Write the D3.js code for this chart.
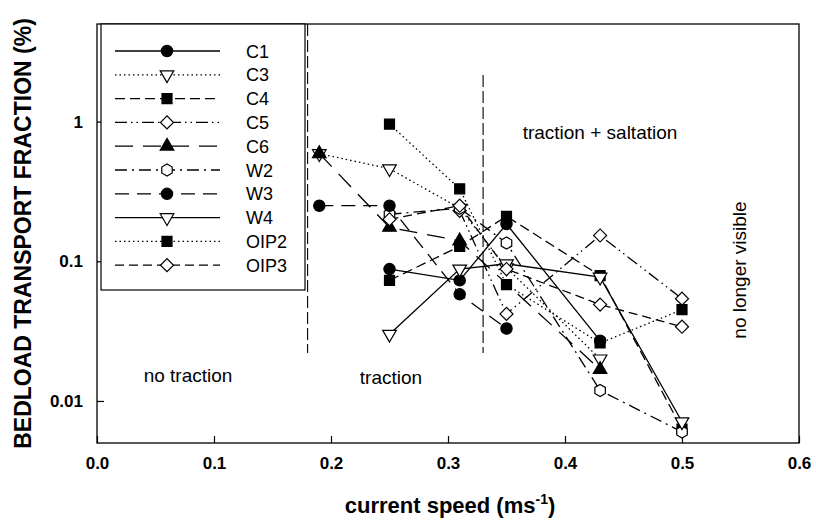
<!DOCTYPE html>
<html><head><meta charset="utf-8">
<script src="https://cdn.jsdelivr.net/npm/d3@7/dist/d3.min.js"></script>
<style>body{margin:0;background:#fff}svg{display:block}</style>
</head><body><svg id="c" width="816" height="524"></svg>
<script>
// ---- data ----
const speeds = [0.19, 0.25, 0.31, 0.35, 0.43, 0.5];
const seriesNames = ["C1","C3","C4","C5","C6","W2","W3","W4","OIP2","OIP3"];
const C1   = [null, 0.088, 0.073, 0.185, 0.027, null];
const C3   = [0.59, 0.46, 0.24, 0.09, 0.020, null];
const C4   = [null, 0.073, 0.128, 0.21, 0.079, 0.0063];
const C5   = [null, null, 0.23, 0.042, 0.153, 0.054];
const C6   = [0.59, 0.175, 0.14, null, 0.0168, null];
const W2   = [null, 0.217, 0.24, 0.135, 0.0119, 0.006];
const W3   = [0.25, 0.25, 0.058, 0.033, null, null];
const W4   = [null, 0.030, 0.088, 0.096, 0.077, 0.0071];
const OIP2 = [null, 0.96, 0.33, 0.068, 0.026, 0.045];
const OIP3 = [null, 0.20, 0.25, 0.088, 0.049, 0.034];
const xTicks = [0, 0.1, 0.2, 0.3, 0.4, 0.5, 0.6];
const yTicks = [0.01, 0.1, 1];
const regimeBounds = [0.18, 0.33];

// ---- styles ----
const styles = {
  C1:  {dash:null, sym:"circle", fill:"#000"},
  C3:  {dash:"1.5,3", sym:"tridown", fill:"#fff"},
  C4:  {dash:"10,5", sym:"square", fill:"#000"},
  C5:  {dash:"12,4,1.5,4,1.5,4", sym:"diamond", fill:"#fff"},
  C6:  {dash:"18,10", sym:"triangle", fill:"#000"},
  W2:  {dash:"12,5,2,5", sym:"hexagon", fill:"#fff"},
  W3:  {dash:"14,8", sym:"circle", fill:"#000"},
  W4:  {dash:null, sym:"tridown", fill:"#fff"},
  OIP2:{dash:"1.5,3", sym:"square", fill:"#000"},
  OIP3:{dash:"9,5", sym:"diamond", fill:"#fff"}
};
const dataMap = {C1,C3,C4,C5,C6,W2,W3,W4,OIP2,OIP3};

const svg = d3.select("#c");
const L = 97, R = 799, T = 24, B = 443;
const x = d3.scaleLinear().domain([0, 0.6]).range([L, R]);
const y = d3.scaleLog().domain([0.005, 5]).range([B, T]);
const font = "'Liberation Sans', Arial, Helvetica, sans-serif";

const hexType = { draw(ctx, size){ const r = Math.sqrt(size/2.598); for(let i=0;i<6;i++){const a=Math.PI/6+i*Math.PI/3; const px=r*Math.cos(a), py=r*Math.sin(a); if(i===0) ctx.moveTo(px,py); else ctx.lineTo(px,py);} ctx.closePath(); } };
function symPath(s){
  if(s==="circle") return {d:d3.symbol().type(d3.symbolCircle).size(100)(), rot:0};
  if(s==="square") return {d:d3.symbol().type(d3.symbolSquare).size(100)(), rot:0};
  if(s==="diamond") return {d:d3.symbol().type(d3.symbolSquare).size(85)(), rot:45};
  if(s==="triangle") return {d:d3.symbol().type(d3.symbolTriangle).size(80)(), rot:0};
  if(s==="tridown") return {d:d3.symbol().type(d3.symbolTriangle).size(80)(), rot:180};
  if(s==="hexagon") return {d:d3.symbol().type(hexType).size(95)(), rot:0};
}

// frame
svg.append("rect").attr("x",L).attr("y",T).attr("width",R-L).attr("height",B-T)
  .attr("fill","none").attr("stroke","#000").attr("stroke-width",1.3);

// axes
const xAxis = d3.axisBottom(x).tickValues(xTicks).tickFormat(d3.format(".1f")).tickSizeInner(-7).tickSizeOuter(0).tickPadding(14);
const gx = svg.append("g").attr("transform",`translate(0,${B})`).call(xAxis);
const yAxis = d3.axisLeft(y).tickValues(yTicks).tickFormat(d=>String(d)).tickSizeInner(-7).tickSizeOuter(0).tickPadding(14);
const gy = svg.append("g").attr("transform",`translate(${L},0)`).call(yAxis);
[gx,gy].forEach(g=>{ g.select(".domain").remove(); g.selectAll("line").attr("stroke","#000").attr("stroke-width",1.2);
  g.selectAll("text").attr("font-family",font).attr("font-weight","bold").attr("font-size",17).attr("fill","#000"); });

// regime lines
svg.append("line").attr("x1",x(regimeBounds[0])).attr("x2",x(regimeBounds[0])).attr("y1",T).attr("y2",353)
  .attr("stroke","#000").attr("stroke-width",1.1).attr("stroke-dasharray","12,4");
svg.append("line").attr("x1",x(regimeBounds[1])).attr("x2",x(regimeBounds[1])).attr("y1",75).attr("y2",353)
  .attr("stroke","#000").attr("stroke-width",1.1).attr("stroke-dasharray","12,4");

// lines
const line = d3.line().x(d=>x(d[0])).y(d=>y(d[1]));
seriesNames.forEach(n=>{
  const pts = speeds.map((s,i)=>[s,dataMap[n][i]]).filter(p=>p[1]!=null);
  svg.append("path").attr("d",line(pts)).attr("fill","none").attr("stroke","#000")
    .attr("stroke-width",1.3).attr("stroke-dasharray",styles[n].dash);
});
// markers
seriesNames.forEach(n=>{
  const st = styles[n], sp = symPath(st.sym);
  const pts = speeds.map((s,i)=>[s,dataMap[n][i]]).filter(p=>p[1]!=null);
  svg.selectAll(null).data(pts).enter().append("path").attr("d",sp.d)
    .attr("transform",d=>`translate(${x(d[0])},${y(d[1])}) rotate(${sp.rot})`)
    .attr("fill",st.fill).attr("stroke","#000").attr("stroke-width",1.2);
});

// legend
const lg = svg.append("g");
lg.append("rect").attr("x",101).attr("y",24).attr("width",204).attr("height",266).attr("fill","#fff").attr("stroke","#000").attr("stroke-width",1.2);
seriesNames.forEach((n,i)=>{
  const yy = 51 + i*23.8, st = styles[n], sp = symPath(st.sym);
  lg.append("line").attr("x1",115).attr("x2",220).attr("y1",yy).attr("y2",yy).attr("stroke","#000").attr("stroke-width",1.3).attr("stroke-dasharray",st.dash);
  lg.append("path").attr("d",sp.d).attr("transform",`translate(167,${yy}) rotate(${sp.rot})`).attr("fill",st.fill).attr("stroke","#000").attr("stroke-width",1.2);
  lg.append("text").attr("x",246).attr("y",yy+6.5).text(n).attr("font-family",font).attr("font-size",18).attr("fill","#000");
});

// annotations
function ann(t,xx,yy,rot){ const e = svg.append("text").attr("font-family",font).attr("font-size",19).attr("text-anchor","middle").attr("fill","#000").text(t);
  if(rot){ e.attr("transform",`translate(${xx},${yy}) rotate(-90)`);} else { e.attr("x",xx).attr("y",yy);} }
ann("no traction",188,382);
ann("traction",391,384);
ann("traction + saltation",600,139);
ann("no longer visible",746,270,true);

// axis titles
svg.append("text").attr("transform",`translate(31,${(T+B)/2}) rotate(-90)`).attr("text-anchor","middle")
  .attr("font-family",font).attr("font-weight","bold").attr("font-size",23).text("BEDLOAD TRANSPORT FRACTION (%)");
const xt = svg.append("text").attr("x",450).attr("y",513).attr("text-anchor","middle")
  .attr("font-family",font).attr("font-weight","bold").attr("font-size",22);
xt.append("tspan").text("current speed (ms");
xt.append("tspan").attr("dy",-9).attr("font-size",14).text("-1");
xt.append("tspan").attr("dy",9).text(")");
</script></body></html>
